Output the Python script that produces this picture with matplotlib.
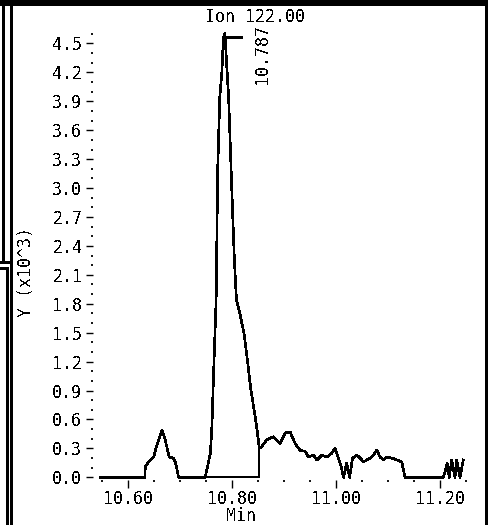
import numpy as np
import matplotlib
matplotlib.use("Agg")
import matplotlib.pyplot as plt
from matplotlib.lines import Line2D
from matplotlib.ticker import MultipleLocator, FormatStrFormatter

# chromatogram trace (retention time in min, abundance x10^3)
times = [10.546, 10.633, 10.634, 10.640, 10.650, 10.656, 10.666, 10.672, 10.680,
         10.688, 10.692, 10.698, 10.749, 10.755, 10.759, 10.762, 10.765, 10.770,
         10.773, 10.777, 10.781, 10.784, 10.787, 10.789, 10.794, 10.797, 10.8015,
         10.805, 10.809, 10.816, 10.824, 10.830, 10.836, 10.842, 10.847, 10.853,
         10.8579, 10.8675, 10.8802, 10.8930, 10.9026, 10.9122, 10.9218, 10.9314,
         10.9410, 10.9473, 10.9569, 10.9635, 10.9731, 10.9827, 10.9922, 10.9986,
         11.0043, 11.0101, 11.0149, 11.0206, 11.0264, 11.0322, 11.0402, 11.0466,
         11.0529, 11.0594, 11.0690, 11.0786, 11.0849, 11.0913, 11.0978, 11.1074,
         11.1170, 11.1266, 11.1329, 11.2064, 11.2097, 11.2141, 11.2179, 11.2225,
         11.2289, 11.2321, 11.2385, 11.2448]
signal = [0.0, 0.0, 0.11, 0.16, 0.21, 0.33, 0.49, 0.39, 0.21,
          0.20, 0.15, 0.0, 0.0, 0.15, 0.25, 0.54, 1.06, 1.84,
          3.19, 3.94, 4.20, 4.56, 4.61, 4.40, 3.94, 3.47, 2.77,
          2.26, 1.84, 1.69, 1.48, 1.22, 0.94, 0.73, 0.56, 0.30,
          0.32, 0.39, 0.42, 0.35, 0.46, 0.47, 0.35, 0.28,
          0.27, 0.21, 0.23, 0.18, 0.23, 0.21, 0.25, 0.30,
          0.21, 0.11, 0.0, 0.145, 0.0, 0.20, 0.23, 0.20,
          0.16, 0.18, 0.21, 0.28, 0.21, 0.18, 0.21, 0.20,
          0.18, 0.16, 0.0, 0.0, 0.06, 0.145, 0.0, 0.18,
          0.0, 0.18, 0.0, 0.18]

# integration window of the main peak
peak_start = 10.749
peak_end = 10.853
ion_label = "Ion 122.00"

plt.rcParams['font.family'] = 'DejaVu Sans Mono'
plt.rcParams['font.size'] = 12
plt.rcParams['text.antialiased'] = False

W, H = 488, 525
fig = plt.figure(figsize=(W / 100, H / 100), dpi=100)

# axes placed in pixel terms
left, right, top, bottom = 99, 466, 31.9, 480.2
ax = fig.add_axes([left / W, 1 - bottom / H, (right - left) / W, (bottom - top) / H])

t = np.array(times)
y = np.array(signal)
ax.plot(t, y, color='black', lw=1.2, antialiased=False)

# integration baseline and end drop line
end_val = y[np.argmin(np.abs(t - peak_end))]
ax.plot([peak_start, peak_end], [0, 0], color='black', lw=1.2, antialiased=False)
ax.plot([peak_end, peak_end], [0, end_val], color='black', lw=1.2, antialiased=False)

# peak apex marker and retention time label
ipk = int(np.argmax(y))
t_pk, v_pk = t[ipk], y[ipk]
ax.plot([t_pk, t_pk + 0.03], [v_pk - 0.04, v_pk - 0.04], color='black', lw=1.0, antialiased=False)
ax.annotate(f"{t_pk:.3f}", xy=(t_pk, v_pk), xytext=(37, 9), textcoords='offset pixels',
            rotation=90, ha='center', va='top', fontsize=12)

ax.set_xlim(10.545, 11.25)
ax.set_ylim(-0.03, 4.62)

for s in ax.spines.values():
    s.set_visible(False)
ax.spines['left'].set_position(('outward', 4))

ax.xaxis.set_major_locator(MultipleLocator(0.2))
ax.xaxis.set_minor_locator(MultipleLocator(0.05))
ax.xaxis.set_major_formatter(FormatStrFormatter('%.2f'))
ax.yaxis.set_major_locator(MultipleLocator(0.3))
ax.yaxis.set_minor_locator(MultipleLocator(0.1))
ax.yaxis.set_major_formatter(FormatStrFormatter('%.1f'))

ax.tick_params(axis='x', which='major', direction='out', length=6, width=1, pad=1)
ax.tick_params(axis='x', which='minor', direction='out', length=1.2, width=1.3)
ax.tick_params(axis='y', which='major', direction='out', length=5, width=1, pad=3)
ax.tick_params(axis='y', which='minor', direction='out', length=1.2, width=1.3)
ax.set_yticks([v for v in np.arange(0, 4.51, 0.3)])

fig.text(255 / W, 1 - 17 / H, ion_label, ha='center', va='center', fontsize=12)
fig.text(26 / W, 1 - 272 / H, "Y (x10^3)", ha='center', va='center', rotation=90, fontsize=12)
fig.text(241 / W, 1 - 516 / H, "Min", ha='center', va='center', fontsize=12)

# window frame lines (pixel coordinates)
def frame(xs, ys):
    fig.add_artist(Line2D([x / W for x in xs], [1 - v / H for v in ys],
                          color='black', lw=0.9, antialiased=False))

frame([0, W], [1, 1])
frame([0, W], [4, 4])
frame([486, 486], [4, H])
frame([2.5, 2.5], [0, 262])
frame([11, 11], [4, H])
frame([7, 7], [268, H])
frame([0, 11], [262, 262])
frame([0, 7], [268, 268])

fig.savefig("out.png", dpi=100)
